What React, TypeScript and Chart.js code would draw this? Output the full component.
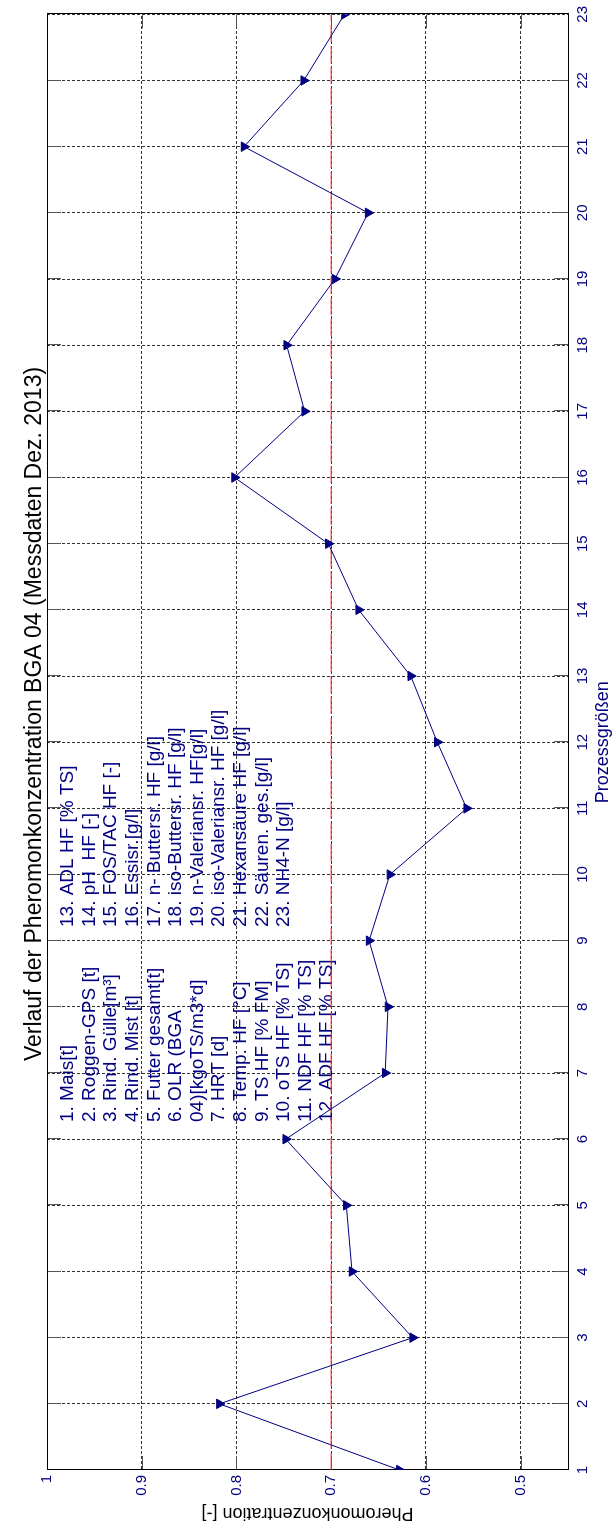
import React, { useEffect, useRef } from 'react';
import { Chart, registerables } from 'chart.js';

Chart.register(...registerables);

const chartTitle = 'Verlauf der Pheromonkonzentration BGA 04 (Messdaten Dez. 2013)';
const xAxisTitle = 'Prozessgrößen';
const yAxisTitle = 'Pheromonkonzentration [-]';

const categories = [1, 2, 3, 4, 5, 6, 7, 8, 9, 10, 11, 12, 13, 14, 15, 16, 17, 18, 19, 20, 21, 22, 23];
const concentration = [
  0.628, 0.818, 0.614, 0.678, 0.684, 0.748, 0.643, 0.640, 0.660, 0.638, 0.557, 0.588,
  0.616, 0.671, 0.703, 0.802, 0.728, 0.747, 0.696, 0.661, 0.792, 0.729, 0.686,
];
const thresholdValue = 0.7;
const valueTicks = [0.5, 0.6, 0.7, 0.8, 0.9, 1];

const legendColumn1 = [
  '1. Mais[t]',
  '2. Roggen-GPS [t]',
  '3. Rind. Gülle[m³]',
  '4. Rind. Mist [t]',
  '5. Futter gesamt[t]',
  '6. OLR (BGA',
  '04)[kgoTS/m3*d]',
  '7. HRT [d]',
  '8. Temp. HF [°C]',
  '9. TS HF [% FM]',
  '10. oTS HF [% TS]',
  '11. NDF HF [% TS]',
  '12. ADF HF [% TS]',
];
const legendColumn2 = [
  '13. ADL HF [% TS]',
  '14. pH  HF [-]',
  '15. FOS/TAC HF [-]',
  '16. Essisr.[g/l]',
  '17. n- Buttersr. HF [g/l]',
  '18. iso-Buttersr. HF [g/l]',
  '19. n-Valeriansr. HF[g/l]',
  '20. iso-Valeriansr. HF [g/l]',
  '21. Hexansäure HF [g/l]',
  '22. Säuren. ges.[g/l]',
  '23. NH4-N [g/l]',
];

const W = 1526;
const H = 614;
const FONT = '"Liberation Sans", Arial, sans-serif';
const NAVY = '#000080';

const decorPlugin = {
  id: 'matlabDecor',
  beforeDatasetsDraw(chart: any) {
    const { ctx, chartArea: a, scales } = chart;
    const L = 14;
    ctx.save();
    ctx.setLineDash([]);
    ctx.lineWidth = 1;
    ctx.strokeStyle = '#555';
    const seg = (x1: number, y1: number, x2: number, y2: number) => {
      ctx.beginPath();
      ctx.moveTo(x1, y1);
      ctx.lineTo(x2, y2);
      ctx.stroke();
    };
    scales.x.ticks.forEach((t: any) => {
      const px = Math.round(scales.x.getPixelForValue(t.value)) + 0.5;
      seg(px, a.top, px, a.top + L);
      seg(px, a.bottom, px, a.bottom - L);
    });
    scales.y.ticks.forEach((t: any) => {
      const py = Math.round(scales.y.getPixelForValue(t.value)) + 0.5;
      seg(a.left, py, a.left + L, py);
      seg(a.right, py, a.right - L, py);
    });
    ctx.strokeStyle = '#000';
    ctx.strokeRect(
      Math.round(a.left) + 0.5,
      Math.round(a.top) + 0.5,
      Math.round(a.right) - Math.round(a.left),
      Math.round(a.bottom) - Math.round(a.top)
    );

    ctx.fillStyle = NAVY;
    ctx.font = `19px ${FONT}`;
    ctx.textAlign = 'left';
    ctx.textBaseline = 'middle';
    const lineH = 21.6;
    const firstY = a.top + 21;
    legendColumn1.forEach((s, i) => ctx.fillText(s, 404, firstY + i * lineH));
    legendColumn2.forEach((s, i) => ctx.fillText(s, 599, firstY + i * lineH));
    ctx.restore();
  },
  afterDraw(chart: any) {
    const { ctx } = chart;
    ctx.save();
    ctx.fillStyle = '#000';
    ctx.font = `23px ${FONT}`;
    ctx.textAlign = 'center';
    ctx.textBaseline = 'middle';
    ctx.fillText(chartTitle, 812, 35);
    ctx.restore();
  },
};

export default function App() {
  const canvasRef = useRef<HTMLCanvasElement | null>(null);

  useEffect(() => {
    const canvas = canvasRef.current;
    if (!canvas) return;
    Chart.defaults.font.family = FONT;
    const gridOpts = { color: '#333', lineWidth: 1, drawTicks: false };
    const chart = new Chart(canvas, {
      type: 'line',
      data: {
        datasets: [
          {
            label: 'Pheromonkonzentration',
            data: categories.map((c, i) => ({ x: c, y: concentration[i] })),
            borderColor: NAVY,
            borderWidth: 1,
            pointStyle: 'triangle',
            pointRotation: 180,
            pointRadius: 5.5,
            pointBackgroundColor: NAVY,
            pointBorderColor: NAVY,
            pointBorderWidth: 1,
            tension: 0,
            order: 1,
          },
          {
            label: 'Grenzwert',
            data: [
              { x: categories[0], y: thresholdValue },
              { x: categories[categories.length - 1], y: thresholdValue },
            ],
            borderColor: 'rgba(255,40,40,0.75)',
            borderWidth: 1.5,
            borderDash: [17, 4],
            pointRadius: 0,
            order: 2,
          },
        ],
      },
      options: {
        responsive: false,
        animation: false,
        events: [],
        layout: { padding: { top: 47, right: 13, left: 0, bottom: 0 } },
        plugins: {
          legend: { display: false },
          tooltip: { enabled: false },
          title: { display: false },
        },
        scales: {
          x: {
            type: 'linear',
            min: 1,
            max: 23,
            afterBuildTicks: (s: any) => {
              s.ticks = categories.map((c) => ({ value: c }));
            },
            afterFit: (s: any) => {
              s.height = 46;
            },
            ticks: {
              color: NAVY,
              font: { size: 15 },
              padding: 6,
              autoSkip: false,
              maxRotation: 0,
              callback: (v: any) => String(v),
            },
            grid: gridOpts,
            border: { display: true, color: '#000', dash: [3, 2] },
            title: {
              display: true,
              text: xAxisTitle,
              color: NAVY,
              font: { size: 18 },
              padding: { top: 0, bottom: 0 },
            },
          },
          y: {
            type: 'linear',
            min: 0.45,
            max: 1,
            afterBuildTicks: (s: any) => {
              s.ticks = valueTicks.map((v) => ({ value: v }));
            },
            afterFit: (s: any) => {
              s.width = 56;
            },
            ticks: {
              color: NAVY,
              font: { size: 15 },
              padding: 5,
              callback: (v: any) => (Number(v) === 1 ? '1' : Number(v).toFixed(1)),
            },
            grid: gridOpts,
            border: { display: true, color: '#000', dash: [3, 2] },
            title: {
              display: true,
              text: yAxisTitle,
              color: '#000',
              font: { size: 18 },
              padding: { top: 2, bottom: 0 },
            },
          },
        },
      },
      plugins: [decorPlugin],
    });
    return () => chart.destroy();
  }, []);

  return (
    <div
      style={{
        position: 'fixed',
        left: 0,
        top: 0,
        width: H,
        height: W,
        overflow: 'hidden',
        background: '#fff',
      }}
    >
      <div
        style={{
          position: 'absolute',
          left: 0,
          top: 0,
          width: W,
          height: H,
          transformOrigin: '0 0',
          transform: `translateY(${W}px) rotate(-90deg)`,
        }}
      >
        <canvas ref={canvasRef} width={W} height={H} style={{ display: 'block', width: W, height: H }} />
      </div>
    </div>
  );
}
